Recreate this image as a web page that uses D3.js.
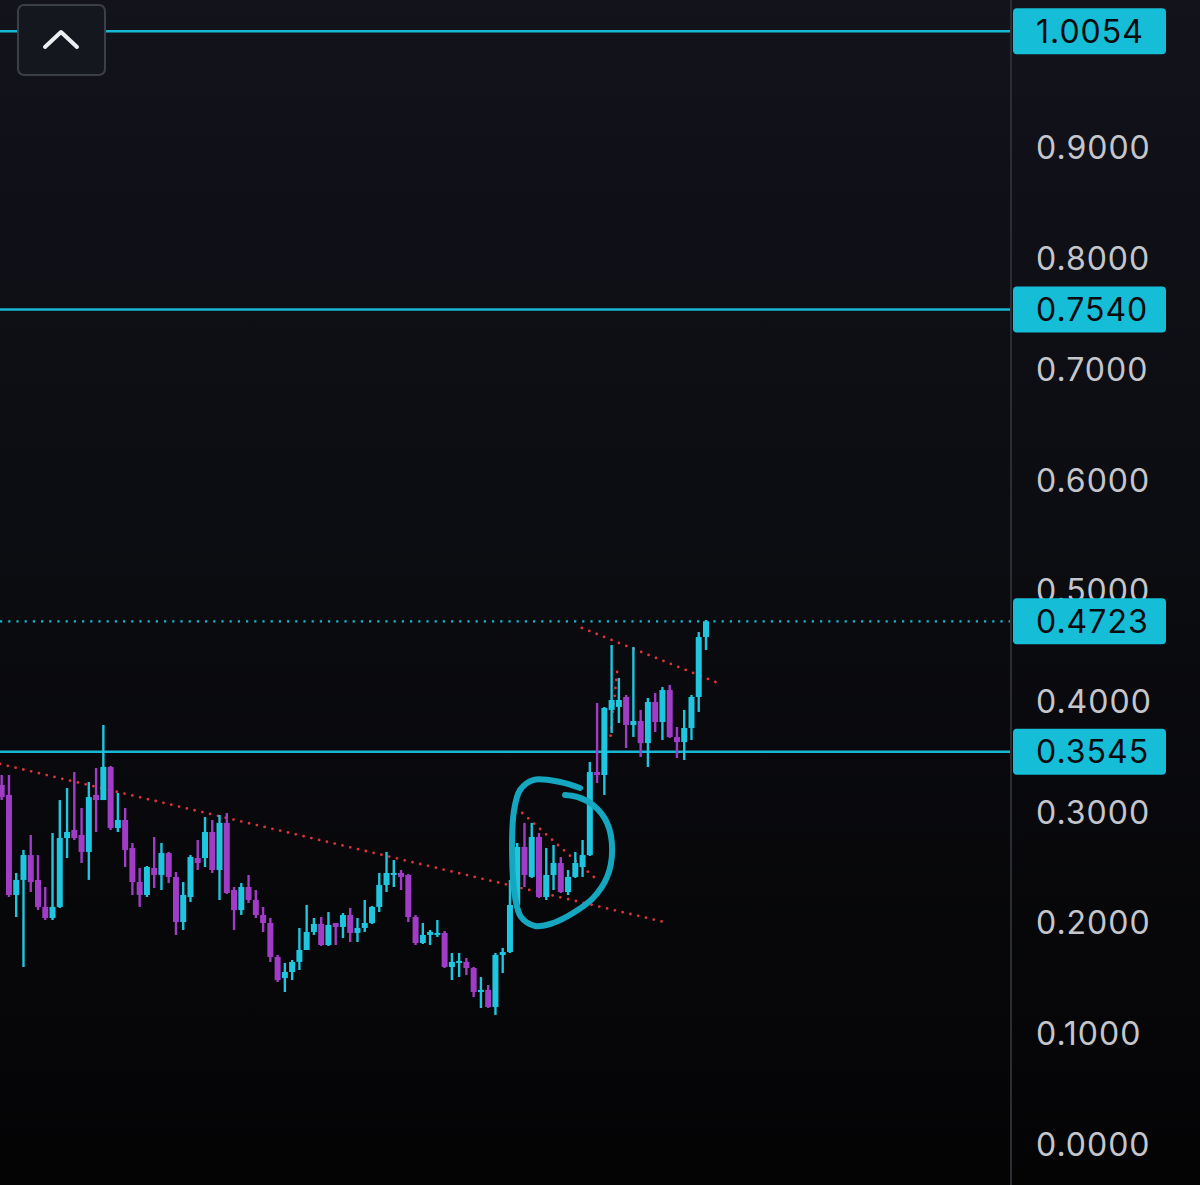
<!DOCTYPE html>
<html><head><meta charset="utf-8">
<script src="https://cdn.jsdelivr.net/npm/d3@7"></script>
<style>html,body{margin:0;padding:0;background:#0b0c12;}svg{display:block;}</style>
</head><body>
<script>
const openP = [
0.3244,0.3154,0.2250,0.2386,0.2611,0.2386,0.2142,0.2042,0.2142,0.2765,
0.2837,0.2792,0.2639,0.3154,0.3108,0.3407,0.2855,0.2928,0.2675,0.2367,
0.2250,0.2494,0.2431,0.2629,0.2413,0.2006,0.2232,0.2584,0.2584,0.2819,
0.2476,0.2901,0.2295,0.2114,0.2322,0.2205,0.2069,0.1997,0.1690,0.1500,
0.1554,0.1645,0.1753,0.1916,0.1988,0.1798,0.1997,0.1961,0.2069,0.1907,
0.1952,0.1997,0.2142,0.2340,0.2431,0.2449,0.2431,0.2051,0.1816,0.1889,
0.1889,0.1907,0.1599,0.1636,0.1645,0.1590,0.1373,0.1392,0.1238,0.1708,
0.1735,0.2160,0.2684,0.2413,0.2774,0.2232,0.2431,0.2539,0.2277,0.2413,
0.2503,0.2611,0.3361,0.3334,0.3922,0.3949,0.4039,0.3786,0.3822,0.3623,
0.3994,0.3813,0.4102,0.3678,0.3632,0.3759,0.4039,0.4581];
const highP = [
0.3334,0.3334,0.2449,0.2657,0.2792,0.2611,0.2322,0.2810,0.3108,0.3217,
0.3361,0.3036,0.3271,0.3398,0.3786,0.3416,0.3172,0.3036,0.2720,0.2494,
0.2512,0.2774,0.2720,0.2639,0.2458,0.2367,0.2611,0.2747,0.2955,0.2928,
0.2973,0.2991,0.2322,0.2358,0.2431,0.2295,0.2142,0.2042,0.1708,0.1636,
0.1663,0.1952,0.2160,0.2042,0.2051,0.2096,0.1997,0.2087,0.2133,0.2042,
0.2205,0.2151,0.2449,0.2639,0.2566,0.2476,0.2440,0.2069,0.1997,0.1934,
0.2024,0.1925,0.1726,0.1726,0.1681,0.1599,0.1509,0.1437,0.1726,0.1771,
0.2386,0.2720,0.2901,0.2901,0.2810,0.2675,0.2702,0.2593,0.2476,0.2639,
0.2747,0.3452,0.3985,0.3949,0.4509,0.4211,0.4057,0.4491,0.3922,0.4030,
0.4075,0.4129,0.4148,0.3768,0.3922,0.4057,0.4626,0.4735];
const lowP = [
0.3108,0.2232,0.2051,0.1599,0.2277,0.2114,0.2024,0.2024,0.2133,0.2584,
0.2747,0.2539,0.2386,0.2819,0.3108,0.2837,0.2819,0.2503,0.2250,0.2142,
0.2232,0.2313,0.2295,0.2358,0.1889,0.1934,0.2187,0.2476,0.2503,0.2449,
0.2205,0.2259,0.1934,0.2069,0.2178,0.2042,0.1916,0.1645,0.1464,0.1373,
0.1482,0.1572,0.1753,0.1889,0.1789,0.1789,0.1798,0.1861,0.1825,0.1825,
0.1916,0.1988,0.2096,0.2277,0.2322,0.2295,0.2006,0.1798,0.1807,0.1798,
0.1871,0.1590,0.1482,0.1509,0.1527,0.1328,0.1229,0.1229,0.1166,0.1545,
0.1726,0.2114,0.2322,0.2404,0.2223,0.2205,0.2295,0.2268,0.2250,0.2404,
0.2413,0.2602,0.3262,0.3154,0.3714,0.3804,0.3578,0.3678,0.3497,0.3407,
0.3723,0.3651,0.3669,0.3488,0.3470,0.3651,0.3904,0.4464];
const closeP = [
0.3135,0.2250,0.2386,0.2611,0.2367,0.2142,0.2042,0.2142,0.2765,0.2819,
0.2765,0.2639,0.3135,0.3108,0.3407,0.2855,0.2928,0.2657,0.2367,0.2250,
0.2503,0.2431,0.2629,0.2413,0.2006,0.2250,0.2593,0.2539,0.2819,0.2476,
0.2901,0.2268,0.2114,0.2322,0.2205,0.2069,0.1997,0.1690,0.1482,0.1554,
0.1645,0.1753,0.1916,0.1988,0.1798,0.1979,0.1961,0.2069,0.1907,0.1952,
0.1997,0.2142,0.2340,0.2449,0.2449,0.2413,0.2051,0.1816,0.1889,0.1916,
0.1907,0.1599,0.1645,0.1654,0.1590,0.1373,0.1392,0.1238,0.1708,0.1735,
0.2160,0.2684,0.2431,0.2774,0.2232,0.2431,0.2539,0.2277,0.2413,0.2539,
0.2611,0.3361,0.3334,0.3940,0.4012,0.4012,0.3786,0.3822,0.3623,0.3994,
0.3813,0.4102,0.3678,0.3632,0.3759,0.4039,0.4581,0.4723];

const tickValues = [0,0.1,0.2,0.3,0.4,0.5,0.6,0.7,0.8,0.9];
const solidLevels = [1.0054, 0.7540, 0.3545];
const dottedLevels = [0.4723];
const labelLevels = [1.0054, 0.7540, 0.4723, 0.3545];

// trend lines: [startIndex, startPrice, endIndex, endPrice]
const trendLines = [
  [-0.23, 0.3434, 91.8, 0.1997],
  [71.7, 0.2991, 82.0, 0.2386],
  [79.9, 0.4663, 98.3, 0.4175],
  [84.75, 0.4265, 83.8, 0.3651]
];
// hand-drawn loop annotation (candle index, price)
const loopIdx = [79.65,76.9,73.18,71.39,70.57,70.29,70.7,71.53,73.46,75.94,78.69,81.45,83.38,84.07,83.38,81.45,79.24,77.59];
const loopPrice = [0.3217,0.3271,0.3289,0.3199,0.3018,0.2629,0.2232,0.2051,0.1970,0.1997,0.2087,0.2223,0.2413,0.2657,0.2901,0.3063,0.3136,0.3154];

const W = 1200, H = 1185;
const svg = d3.select("body").append("svg").attr("width", W).attr("height", H);
const defs = svg.append("defs");
const grad = defs.append("linearGradient").attr("id","bg").attr("x1",0).attr("y1",0).attr("x2",0).attr("y2",1);
grad.append("stop").attr("offset","0%").attr("stop-color","#12131b");
grad.append("stop").attr("offset","100%").attr("stop-color","#040405");
svg.append("rect").attr("width",W).attr("height",H).attr("fill","url(#bg)");

const x = d3.scaleLinear().domain([0, 97]).range([1.7, 706]);
const y = d3.scaleLinear().domain([0, 1]).range([1144, 1144 - 1106.7]);
const plotRight = 1010;

const UP = "#1ec6df", DOWN = "#a03cc6", LINE = "#17b8d3";

// level lines
svg.selectAll(".lvl").data(solidLevels).join("line")
  .attr("x1",0).attr("x2",plotRight).attr("y1",d=>y(d)).attr("y2",d=>y(d))
  .attr("stroke",LINE).attr("stroke-width",2.5);
svg.selectAll(".dlvl").data(dottedLevels).join("line")
  .attr("x1",0).attr("x2",plotRight).attr("y1",d=>y(d)).attr("y2",d=>y(d))
  .attr("stroke",LINE).attr("stroke-width",2.2).attr("stroke-dasharray","2.2,6");

// trend lines (red dotted)
svg.selectAll(".trend").data(trendLines).join("line")
  .attr("x1",d=>x(d[0])).attr("y1",d=>y(d[1])).attr("x2",d=>x(d[2])).attr("y2",d=>y(d[3]))
  .attr("stroke","#e0323c").attr("stroke-width",2.8).attr("stroke-linecap","round")
  .attr("stroke-dasharray","0,8");

// candles
const data = openP.map((o,i)=>({i, o, h:highP[i], l:lowP[i], c:closeP[i]}));
const g = svg.append("g");
g.selectAll(".wick").data(data).join("line")
  .attr("x1",d=>x(d.i)).attr("x2",d=>x(d.i)).attr("y1",d=>y(d.h)).attr("y2",d=>y(d.l))
  .attr("stroke",d=>d.c>=d.o?UP:DOWN).attr("stroke-width",2.4);
g.selectAll(".body").data(data).join("rect")
  .attr("x",d=>x(d.i)-3).attr("width",6)
  .attr("y",d=>y(Math.max(d.o,d.c)))
  .attr("height",d=>Math.max(2, Math.abs(y(d.o)-y(d.c))))
  .attr("fill",d=>d.c>=d.o?UP:DOWN);

// loop annotation
const loopPts = loopIdx.map((v,i)=>[x(v), y(loopPrice[i])]);
svg.append("path").attr("d", d3.line().curve(d3.curveCatmullRom.alpha(0.5))(loopPts))
  .attr("fill","none").attr("stroke","#15a7c0").attr("stroke-width",6).attr("stroke-linecap","round");

// axis separator
svg.append("line").attr("x1",1011).attr("x2",1011).attr("y1",0).attr("y2",H)
  .attr("stroke","#2b2d33").attr("stroke-width",2);

// tick labels
const fontFam = "Inter, 'Noto Sans', sans-serif";
svg.selectAll(".tick").data(tickValues).join("text")
  .attr("x",1036).attr("y",d=>y(d)).attr("dy","0.36em")
  .attr("font-family",fontFam).attr("font-size",32).attr("letter-spacing","1px")
  .attr("fill","#c4c6cc").text(d=>d3.format(".4f")(d));

// highlighted labels
const lab = svg.selectAll(".lab").data(labelLevels).join("g");
lab.append("rect").attr("x",1013).attr("width",153).attr("y",d=>y(d)-23).attr("height",46)
  .attr("rx",4).attr("fill","#16bdd6");
lab.append("text").attr("x",1036).attr("y",d=>y(d)).attr("dy","0.36em")
  .attr("font-family",fontFam).attr("font-size",32).attr("letter-spacing","1px")
  .attr("fill","#0a0b0f").text(d=>d3.format(".4f")(d));

// top-left button
svg.append("rect").attr("x",18).attr("y",5).attr("width",87).attr("height",70).attr("rx",6)
  .attr("fill","#15171f").attr("stroke","#3c3f47").attr("stroke-width",2);
svg.append("path").attr("d","M45,47 L61,32 L77,47").attr("fill","none")
  .attr("stroke","#eceef2").attr("stroke-width",4).attr("stroke-linecap","round").attr("stroke-linejoin","round");
</script>
</body></html>
